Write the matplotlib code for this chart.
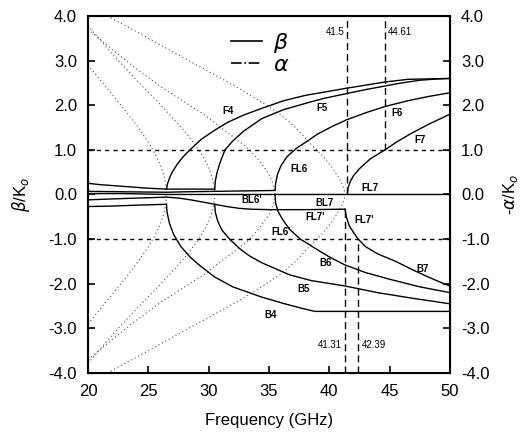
import matplotlib
matplotlib.use('Agg')
import matplotlib.pyplot as plt
from matplotlib.lines import Line2D

plt.rcParams['font.family'] = ['Liberation Sans', 'DejaVu Sans']
plt.rcParams['axes.unicode_minus'] = False

# dotted cutoff curves (drawn for +/- values)
dotA_f = [20, 21, 22, 23, 24, 25, 25.5, 26.0, 26.3, 26.45, 26.5]
dotA_v = [2.90, 2.57, 2.24, 1.91, 1.56, 1.17, 0.94, 0.66, 0.41, 0.21, 0.0]
dotB_f = [20, 22, 24, 26, 27, 28, 29, 29.5, 30.0, 30.3, 30.45, 30.5]
dotB_v = [3.78, 3.15, 2.57, 2.01, 1.72, 1.42, 1.07, 0.86, 0.60, 0.38, 0.19, 0.0]
dotC_f = [20, 22, 24, 26, 28, 29.7, 31, 32, 33.4, 34.3, 35.0, 35.35, 35.5]
dotC_v = [3.70, 3.25, 2.82, 2.42, 2.07, 1.78, 1.50, 1.30, 1.00, 0.72, 0.45, 0.22, 0.0]
dotD_f = [21.6, 24, 26, 28, 30.5, 32.5, 34.5, 36, 37.2, 38.5, 39.5, 40.3, 40.9, 41.2, 41.3]
dotD_v = [4.0, 3.65, 3.35, 3.05, 2.68, 2.38, 2.05, 1.78, 1.50, 1.12, 0.85, 0.58, 0.32, 0.15, 0.0]

# forward branches (beta)
F4_f = [26.5, 26.6, 26.8, 27.0, 27.4, 27.9, 28.45, 29.4, 30.5, 31.6, 32.9, 34.4, 36.2, 38.0, 41.4, 44.6, 46.5, 50.0]
F4_v = [0.12, 0.25, 0.40, 0.51, 0.68, 0.85, 1.00, 1.24, 1.44, 1.62, 1.78, 1.93, 2.10, 2.22, 2.38, 2.52, 2.58, 2.60]
F5_f = [30.5, 30.55, 30.7, 30.95, 31.35, 32.0, 32.9, 34.4, 36.2, 38.0, 39.5, 41.4, 43.0, 44.6, 46.0, 47.5, 49.0, 50.0]
F5_v = [0.12, 0.30, 0.50, 0.72, 1.00, 1.20, 1.42, 1.70, 1.90, 2.04, 2.15, 2.26, 2.35, 2.43, 2.50, 2.56, 2.59, 2.60]
F6_f = [35.5, 35.55, 35.7, 36.0, 36.5, 37.3, 38.2, 39.0, 40.2, 41.4, 43.0, 44.6, 46.5, 48.3, 50.0]
F6_v = [0.10, 0.25, 0.45, 0.65, 0.85, 1.04, 1.20, 1.35, 1.52, 1.67, 1.83, 1.97, 2.10, 2.20, 2.28]
F7_f = [41.5, 41.55, 41.75, 42.0, 42.5, 43.4, 44.61, 45.6, 46.8, 48.2, 50.0]
F7_v = [0.02, 0.15, 0.30, 0.42, 0.58, 0.80, 1.00, 1.18, 1.37, 1.57, 1.80]

# backward branches
B4_f = [26.5, 26.55, 26.75, 27.1, 27.7, 28.45, 29.3, 30.5, 32.0, 34.4, 36.3, 38.0, 38.8, 50.0]
B4_v = [-0.22, -0.40, -0.65, -0.90, -1.17, -1.40, -1.60, -1.85, -2.07, -2.30, -2.45, -2.57, -2.62, -2.62]
B5_f = [30.5, 30.55, 30.75, 31.1, 31.8, 32.6, 33.4, 34.4, 36.7, 38.5, 41.3, 44.0, 47.0, 50.0]
B5_v = [-0.22, -0.40, -0.60, -0.80, -1.02, -1.22, -1.38, -1.53, -1.80, -1.93, -2.05, -2.20, -2.33, -2.45]
B6_f = [35.5, 35.55, 35.75, 36.1, 36.7, 37.6, 38.9, 40.0, 41.3, 43.0, 45.0, 47.5, 50.0]
B6_v = [0.0, -0.20, -0.38, -0.55, -0.78, -1.00, -1.22, -1.40, -1.58, -1.75, -1.90, -2.07, -2.20]
B7_f = [41.3, 41.4, 41.65, 42.0, 42.39, 43.0, 44.0, 45.5, 47.0, 48.2, 49.5, 50.0]
B7_v = [-0.33, -0.50, -0.70, -0.85, -1.00, -1.17, -1.33, -1.50, -1.70, -1.85, -2.00, -2.05]

# near-zero branches
Z1_f = [20, 21, 22, 23, 24, 25, 26.5, 28, 30.5]
Z1_v = [0.25, 0.22, 0.20, 0.18, 0.16, 0.14, 0.12, 0.12, 0.12]
Z2_f = [20, 23, 26.5, 28, 30.5, 33, 35.5]
Z2_v = [0.07, 0.06, 0.05, 0.06, 0.07, 0.08, 0.09]
Z3_f = [20, 23, 26.5, 30, 35.5, 41.5, 50]
Z3_v = [0.02, 0.02, 0.0, 0.0, 0.0, 0.0, 0.0]
Z4_f = [20, 23, 26.5, 27.5, 28.5, 29.5, 30.5, 31.5, 32.5, 33.5, 35, 38, 41.3]
Z4_v = [-0.12, -0.09, -0.06, -0.08, -0.12, -0.17, -0.22, -0.27, -0.31, -0.33, -0.34, -0.34, -0.33]
Z5_f = [20, 22, 24, 26.5]
Z5_v = [-0.27, -0.26, -0.24, -0.22]

# curve labels
lab_text = ['F4', 'F5', 'F6', 'F7', 'FL6', 'FL7', 'BL7', "FL7'", "FL7'", "FL6'", "BL6'",
            'B4', 'B5', 'B6', 'B7']
lab_f = [31.6, 39.4, 45.6, 47.5, 37.5, 43.4, 39.6, 38.8, 42.9, 36.0, 33.6, 35.1, 37.9, 39.7, 47.7]
lab_v = [1.86, 1.93, 1.82, 1.22, 0.57, 0.14, -0.20, -0.51, -0.57, -0.85, -0.12, -2.71, -2.11, -1.53, -1.66]

# marked frequencies (vertical dashed lines)
mark_f = [41.5, 44.61, 41.31, 42.39]
mark_lo = [0.0, 1.0, -4.0, -4.0]
mark_hi = [4.0, 4.0, -0.33, -1.0]
mark_txt = ['41.5', '44.61', '41.31', '42.39']
mark_tx = [41.25, 44.85, 41.05, 42.65]
mark_ty = [3.65, 3.65, -3.38, -3.38]
mark_ha = ['right', 'left', 'right', 'left']

fig = plt.figure(figsize=(5.24, 4.34), dpi=100)
ax = fig.add_axes([0.168, 0.1406, 0.6908, 0.8226])

for f, v in [(dotA_f, dotA_v), (dotB_f, dotB_v), (dotC_f, dotC_v), (dotD_f, dotD_v)]:
    ax.plot(f, v, color='0.3', lw=0.8, ls=(0, (1, 2.5)))
    ax.plot(f, [-x for x in v], color='0.3', lw=0.8, ls=(0, (1, 2.5)))

for f, v in [(F4_f, F4_v), (F5_f, F5_v), (F6_f, F6_v), (F7_f, F7_v),
             (B4_f, B4_v), (B5_f, B5_v), (B6_f, B6_v), (B7_f, B7_v),
             (Z1_f, Z1_v), (Z2_f, Z2_v), (Z3_f, Z3_v), (Z4_f, Z4_v), (Z5_f, Z5_v)]:
    ax.plot(f, v, color='black', lw=1.0)

ax.axhline(1.0, color='black', lw=1.0, ls=(0, (3, 3)))
ax.axhline(-1.0, color='black', lw=1.0, ls=(0, (3, 3)))

for i in range(len(mark_f)):
    ax.plot([mark_f[i], mark_f[i]], [mark_lo[i], mark_hi[i]], color='black', lw=1.0, ls=(0, (5, 3)))
    ax.text(mark_tx[i], mark_ty[i], mark_txt[i], fontsize=7, ha=mark_ha[i], va='center')

for t, x, y in zip(lab_text, lab_f, lab_v):
    ax.text(x, y, t, fontsize=7, fontweight='bold', ha='center', va='center')

handles = [Line2D([], [], color='black', lw=1.2),
           Line2D([], [], color='black', lw=1.2, ls='-.')]
ax.legend(handles, [r'$\beta$', r'$\alpha$'], loc='upper left', bbox_to_anchor=(0.34, 1.015),
          frameon=False, fontsize=16, handlelength=1.4, handletextpad=0.5, labelspacing=0.0)

ax.set_xlim(20, 50)
ax.set_ylim(-4, 4)
ax.set_xticks([20, 25, 30, 35, 40, 45, 50])
ax.set_yticks([-4, -3, -2, -1, 0, 1, 2, 3, 4])
ax.set_yticklabels(['%.1f' % y for y in ax.get_yticks()])
ax.tick_params(direction='in', length=5, width=1.2, labelsize=12, pad=8, right=False, top=False)
for s in ax.spines.values():
    s.set_linewidth(1.5)
ax.set_xlabel('Frequency (GHz)', fontsize=12, labelpad=10)
ax.set_ylabel(r'$\beta$/K$_o$', fontsize=12, labelpad=12)

ax2 = ax.twinx()
ax2.set_ylim(-4, 4)
ax2.set_yticks([-4, -3, -2, -1, 0, 1, 2, 3, 4])
ax2.set_yticklabels(['%.1f' % y for y in ax2.get_yticks()])
ax2.tick_params(direction='in', length=5, width=1.2, labelsize=12, pad=8)
ax2.set_ylabel(r'-$\alpha$/K$_o$', fontsize=12, labelpad=8)

fig.savefig('out.png', dpi=100)
